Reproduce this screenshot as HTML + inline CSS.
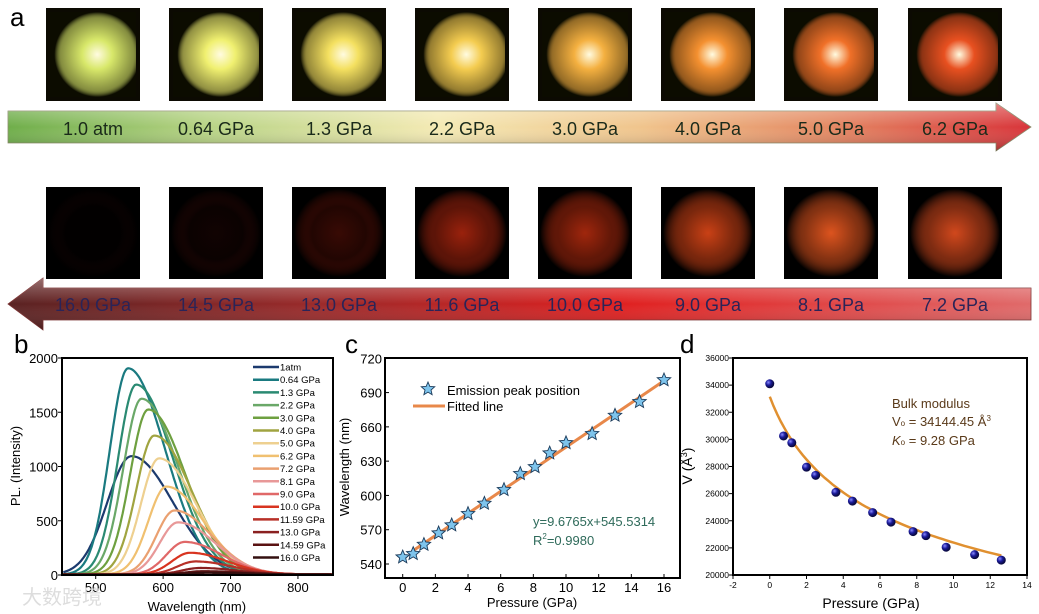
<!DOCTYPE html>
<html><head><meta charset="utf-8"><style>
body{margin:0;background:#fff}
svg{display:block;font-family:"Liberation Sans","Noto Sans CJK SC",sans-serif}
</style></head><body>
<svg id="fig" width="1039" height="614" viewBox="0 0 1039 614">
<defs>
<linearGradient id="gTop" x1="0" x2="1" y1="0" y2="0">
<stop offset="0" stop-color="#6fae4a"/><stop offset="0.2" stop-color="#b9d486"/><stop offset="0.42" stop-color="#f4eab4"/><stop offset="0.62" stop-color="#f0c48c"/><stop offset="0.8" stop-color="#e48a64"/><stop offset="1" stop-color="#d8343a"/></linearGradient>
<linearGradient id="gBot" x1="0" x2="1" y1="0" y2="0">
<stop offset="0" stop-color="#5a2222"/><stop offset="0.3" stop-color="#9a2a2a"/><stop offset="0.6" stop-color="#e02020"/><stop offset="1" stop-color="#e06a6a"/></linearGradient>
<linearGradient id="shine" x1="0" x2="0" y1="0" y2="1"><stop offset="0" stop-color="#fff" stop-opacity="0.35"/><stop offset="0.5" stop-color="#fff" stop-opacity="0"/><stop offset="1" stop-color="#000" stop-opacity="0.25"/></linearGradient>
</defs>
<g id="panelA"></g>
<text x="10" y="26" font-size="26">a</text>
<text x="14" y="353" font-size="26">b</text>
<text x="345" y="353" font-size="26">c</text>
<text x="680" y="353" font-size="26">d</text>
<g id="panelB"></g>
<g id="panelC"></g>
<g id="panelD"></g>
<text x="22" y="604" font-size="20" fill="#ddd">大数跨境</text>
</svg>
<script>
// ---------- panel a data ----------
const topLabels = ["1.0 atm","0.64 GPa","1.3 GPa","2.2 GPa","3.0 GPa","4.0 GPa","5.0 GPa","6.2 GPa"];
const topColors = ["#d8e86a","#f0f070","#f4e060","#f4cc50","#f4b040","#f49030","#f07028","#e85020"];
const botLabels = ["16.0 GPa","14.5 GPa","13.0 GPa","11.6 GPa","10.0 GPa","9.0 GPa","8.1 GPa","7.2 GPa"];
const botColors = ["#1a0404","#3a0a06","#701408","#c02a10","#c83010","#e04818","#e85820","#e85020"];
const botGlow = [0.1,0.3,0.5,0.8,0.8,0.9,0.95,0.9];

// ---------- panel b data ----------
const bLabels = ["1atm","0.64 GPa","1.3 GPa","2.2 GPa","3.0 GPa","4.0 GPa","5.0 GPa","6.2 GPa","7.2 GPa","8.1 GPa","9.0 GPa","10.0 GPa","11.59 GPa","13.0 GPa","14.59 GPa","16.0 GPa"];
const bPeakWl = [553,548,560,568,578,587,594,605,617,622,632,640,648,655,660,665];
const bPeakI = [1090,1900,1750,1620,1520,1280,1070,810,590,480,300,200,120,60,30,15];
const bColors = ["#1c3a6e","#1a7a80","#2a8a72","#6aa868","#6ea040","#a0a440","#eed090","#f0c070","#eaa070","#e89898","#e06868","#d83420","#b83028","#8a2020","#5a1212","#341010"];
const bYTicks = [0,500,1000,1500,2000];
const bXTicks = [500,600,700,800];

// ---------- panel c data ----------
const cP = [0,0.64,1.3,2.2,3.0,4.0,5.0,6.2,7.2,8.1,9.0,10.0,11.6,13.0,14.5,16.0];
const cWl = [546,549,557,567,574,584,593,605,619,625,637,646,654,670,682,701];
const cXTicks = [0,2,4,6,8,10,12,14,16];
const cYTicks = [540,570,600,630,660,690,720];

// ---------- panel d data ----------
const dP = [0,0.75,1.2,2.0,2.5,3.6,4.5,5.6,6.6,7.8,8.5,9.6,11.15,12.6];
const dV = [34100,30250,29750,27950,27350,26100,25450,24600,23900,23200,22900,22050,21500,21100];
const dXTicks = [-2,0,2,4,6,8,10,12,14];
const dYTicks = [20000,22000,24000,26000,28000,30000,32000,34000,36000];

const NS="http://www.w3.org/2000/svg";
function mk(tag,attrs,parent,txt){const e=document.createElementNS(NS,tag);for(const k in attrs)e.setAttribute(k,attrs[k]);if(txt!==undefined)e.textContent=txt;parent.appendChild(e);return e;}
const defs=document.querySelector('defs');

// ---------- panel a ----------
const A=document.getElementById('panelA');
const imgX=[46,169,292,415,538,661,784,908];
let ta=mk('path',{d:"M8,111 L996,111 L996,103 L1031,127 L996,151 L996,143 L8,143 Z",fill:"url(#gTop)",stroke:"#8a8a6a","stroke-width":"0.8"},A);


mk('path',{d:"M8,111 L996,111 L996,103 L1031,127 L996,151 L996,143 L8,143 Z",fill:"url(#shine)"},A);
let ba=mk('path',{d:"M43,288 L1031,288 L1031,320 L43,320 L43,330 L8,304 L43,278 Z",fill:"url(#gBot)",stroke:"#7a3030","stroke-width":"0.8"},A);


mk('path',{d:"M43,288 L1031,288 L1031,320 L43,320 L43,330 L8,304 L43,278 Z",fill:"url(#shine)"},A);
topLabels.forEach((l,i)=>{
  const x=imgX[i];
  const g=mk('radialGradient',{id:'rt'+i,cx:"0.55",cy:"0.5",r:"0.5"},defs);
  mk('stop',{offset:"0","stop-color":"#fffbe0"},g);
  mk('stop',{offset:"0.35","stop-color":topColors[i]},g);
  mk('stop',{offset:"0.85","stop-color":topColors[i],"stop-opacity":"0.6"},g);
  mk('stop',{offset:"1","stop-color":"#0c0c00"},g);
  mk('rect',{x:x,y:8,width:94,height:93,fill:"#0c0a02"},A);
  const r=mk('rect',{x:x+4,y:12,width:86,height:85,fill:"url(#rt"+i+")"},A);
  
  
  const t=mk('text',{x:x+47,y:135,"font-size":"18","text-anchor":"middle",fill:"#1a2a1a"},A,l);
  
  
});
botLabels.forEach((l,i)=>{
  const x=imgX[i];
  const g=mk('radialGradient',{id:'rb'+i,cx:"0.5",cy:"0.5",r:"0.5"},defs);
  mk('stop',{offset:"0","stop-color":botColors[i],"stop-opacity":botGlow[i]},g);
  mk('stop',{offset:"0.6","stop-color":botColors[i],"stop-opacity":botGlow[i]*0.6},g);
  mk('stop',{offset:"1","stop-color":"#000"},g);
  mk('rect',{x:x,y:187,width:94,height:92,fill:"#000"},A);
  const r=mk('rect',{x:x+2,y:189,width:90,height:88,fill:"url(#rb"+i+")"},A);
  
  
  const t=mk('text',{x:x+47,y:311,"font-size":"18","text-anchor":"middle",fill:"#2a2458"},A,l);
  
  
});

function frame(P,L,R,T,B){mk('rect',{x:L,y:T,width:R-L,height:B-T,fill:"none",stroke:"#000","stroke-width":"2"},P);}

// ---------- panel b ----------
const PB=document.getElementById('panelB');
const bL=62,bR=333,bT=358,bB=575;
const bx=w=>bL+(w-450)/(852-450)*(bR-bL);
const by=v=>bB-v/2000*(bB-bT);
bColors.forEach((c,i)=>{
  let d="";
  const sl=(i===0?36:27), sr=(i===0?62:55);
  for(let w=452;w<=850;w+=2){
    const s=w<bPeakWl[i]?sl:sr;
    const v=bPeakI[i]*Math.exp(-Math.pow((w-bPeakWl[i])/s,2)/2)+5;
    d+=(d?"L":"M")+bx(w).toFixed(1)+","+by(v).toFixed(1);
  }
  const p=mk('path',{d:d,fill:"none",stroke:c,"stroke-width":"2.2"},PB);
  
  
});
frame(PB,bL,bR,bT,bB);
bYTicks.forEach(v=>{mk('line',{x1:bL,x2:bL-4,y1:by(v),y2:by(v),stroke:"#000"},PB);
  const t=mk('text',{x:bL-4,y:by(v)+5,"font-size":"13","text-anchor":"end"},PB,v);
  });
bXTicks.forEach(v=>{mk('line',{x1:bx(v),x2:bx(v),y1:bB,y2:bB+4,stroke:"#000"},PB);
  const t=mk('text',{x:bx(v),y:bB+17,"font-size":"13","text-anchor":"middle"},PB,v);
  });
let tb=mk('text',{x:bx(650),y:611,"font-size":"13","text-anchor":"middle"},PB,"Wavelength (nm)");

tb=mk('text',{x:0,y:0,"font-size":"13","text-anchor":"middle",transform:"translate(20,466) rotate(-90)"},PB,"PL. (Intensity)");

bLabels.forEach((l,i)=>{const y=367+i*12.7;
  mk('line',{x1:253,x2:279,y1:y,y2:y,stroke:bColors[i],"stroke-width":"2.5"},PB);
  const t=mk('text',{x:280,y:y+3.5,"font-size":"9.5"},PB,l);
  });

// ---------- panel c ----------
const PC=document.getElementById('panelC');
const cL=385,cR=680,cT=358,cB=578;
const cx=p=>402.7+p*(664-402.7)/16;
const cy=w=>564-(w-540)*(564-358.3)/180;
frame(PC,cL,cR,cT,cB);
cYTicks.forEach(v=>{mk('line',{x1:cL,x2:cL+4,y1:cy(v),y2:cy(v),stroke:"#000"},PC);
  const t=mk('text',{x:cL-3,y:cy(v)+5,"font-size":"13","text-anchor":"end"},PC,v);
  });
cXTicks.forEach(v=>{mk('line',{x1:cx(v),x2:cx(v),y1:cB,y2:cB-4,stroke:"#000"},PC);
  const t=mk('text',{x:cx(v),y:cB+14,"font-size":"13","text-anchor":"middle"},PC,v);
  });
let fl=mk('line',{x1:cx(0.64),y1:cy(9.6765*0.64+545.5314),x2:cx(16),y2:cy(9.6765*16+545.5314),stroke:"#e8884a","stroke-width":"3"},PC);

function star(P,x,y,r){let d="";for(let k=0;k<10;k++){const a=-Math.PI/2+k*Math.PI/5;const rr=k%2?r*0.45:r;d+=(k?"L":"M")+(x+rr*Math.cos(a)).toFixed(1)+","+(y+rr*Math.sin(a)).toFixed(1);}
  return mk('path',{d:d+"Z",fill:"#7ec4ec",stroke:"#1a3a5a","stroke-width":"0.9"},P);}
cP.forEach((p,i)=>{const s=star(PC,cx(p),cy(cWl[i]),7);
  });
star(PC,428,389,7);
let tc=mk('text',{x:447,y:395,"font-size":"13"},PC,"Emission peak position");

mk('line',{x1:413,x2:445,y1:406,y2:406,stroke:"#e8884a","stroke-width":"3"},PC);
tc=mk('text',{x:447,y:411,"font-size":"13"},PC,"Fitted line");

tc=mk('text',{x:533,y:526,"font-size":"13",fill:"#2e6a5a"},PC,"y=9.6765x+545.5314");

tc=mk('text',{x:533,y:545,"font-size":"13",fill:"#2e6a5a"},PC);

tc.innerHTML='R<tspan font-size="8" dy="-6">2</tspan><tspan dy="6">=0.9980</tspan>';
tc=mk('text',{x:532,y:607,"font-size":"13","text-anchor":"middle"},PC,"Pressure (GPa)");

tc=mk('text',{x:0,y:0,"font-size":"13","text-anchor":"middle",transform:"translate(349,467) rotate(-90)"},PC,"Wavelength (nm)");


// ---------- panel d ----------
const PD=document.getElementById('panelD');
const dL=733,dR=1027,dT=358,dB=575;
const dx=p=>dL+(p+2)/16*(dR-dL);
const dy=v=>dB-(v-20000)/16000*(dB-dT);
frame(PD,dL,dR,dT,dB);
dYTicks.forEach(v=>{mk('line',{x1:dL,x2:dL-4,y1:dy(v),y2:dy(v),stroke:"#000"},PD);
  const t=mk('text',{x:dL-4,y:dy(v)+3,"font-size":"8.5","text-anchor":"end"},PD,v);
  });
dXTicks.forEach(v=>{mk('line',{x1:dx(v),x2:dx(v),y1:dB,y2:dB+4,stroke:"#000"},PD);
  const t=mk('text',{x:dx(v),y:dB+13,"font-size":"8.5","text-anchor":"middle"},PD,v);
  });
let dd="";for(let p=0;p<=12.6;p+=0.2){const v=33150*Math.pow(1+4.5*p/9.28,-1/4.5);dd+=(dd?"L":"M")+dx(p).toFixed(1)+","+dy(v).toFixed(1);}
let fc=mk('path',{d:dd,fill:"none",stroke:"#e09030","stroke-width":"2.5"},PD);

const bg=mk('radialGradient',{id:'ball',cx:"0.35",cy:"0.35",r:"0.6"},defs);
mk('stop',{offset:"0","stop-color":"#8a8aff"},bg);mk('stop',{offset:"0.5","stop-color":"#1a1a9a"},bg);mk('stop',{offset:"1","stop-color":"#0a0a40"},bg);
dP.forEach((p,i)=>{const c=mk('circle',{cx:dx(p),cy:dy(dV[i]),r:4.5,fill:"url(#ball)"},PD);
  });
let td=mk('text',{x:892,y:408,"font-size":"13",fill:"#5a3a1a"},PD,"Bulk modulus");

td=mk('text',{x:892,y:426,"font-size":"13",fill:"#5a3a1a"},PD);

td.innerHTML='V<tspan font-size="8">o</tspan> = 34144.45 Å<tspan font-size="8" dy="-5">3</tspan>';
td=mk('text',{x:892,y:445,"font-size":"13",fill:"#5a3a1a"},PD);

td.innerHTML='<tspan font-style="italic">K</tspan><tspan font-size="8">o</tspan> = 9.28 GPa';
td=mk('text',{x:871,y:608,"font-size":"14","text-anchor":"middle"},PD,"Pressure (GPa)");

td=mk('text',{x:0,y:0,"font-size":"14","text-anchor":"middle",transform:"translate(692,466) rotate(-90)"},PD);

td.innerHTML='V (Å<tspan font-size="9" dy="-5">3</tspan><tspan dy="5">)</tspan>';
</script>
</body></html>
